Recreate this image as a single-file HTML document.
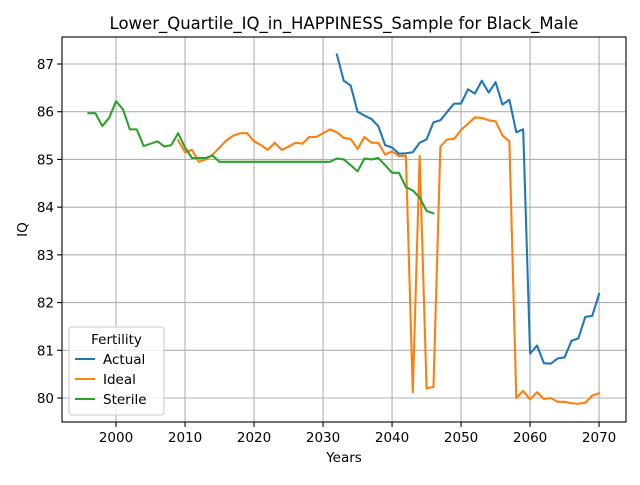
<!DOCTYPE html>
<html><head><meta charset="utf-8"><style>
body{margin:0;background:#fff;font-family:"Liberation Sans","DejaVu Sans",sans-serif;}
svg text{font-family:"DejaVu Sans","Liberation Sans",sans-serif;}
</style></head><body>
<svg id="chart" width="640" height="480" xmlns="http://www.w3.org/2000/svg"></svg>
<script>
const actualYears=[2032,2033,2034,2035,2036,2037,2038,2039,2040,2041,2042,2043,2044,2045,2046,2047,2048,2049,2050,2051,2052,2053,2054,2055,2056,2057,2058,2059,2060,2061,2062,2063,2064,2065,2066,2067,2068,2069,2070];
const actualValues=[87.2,86.65,86.55,86.0,85.92,85.85,85.7,85.3,85.25,85.12,85.13,85.15,85.35,85.42,85.78,85.82,86.0,86.17,86.17,86.47,86.38,86.65,86.4,86.62,86.15,86.25,85.57,85.63,80.93,81.1,80.73,80.72,80.83,80.85,81.2,81.25,81.7,81.72,82.18];
const idealStart=2009;
const idealValues=[85.4,85.15,85.2,84.95,85.0,85.1,85.25,85.4,85.5,85.55,85.55,85.38,85.3,85.2,85.35,85.2,85.27,85.35,85.33,85.47,85.47,85.55,85.63,85.57,85.45,85.43,85.22,85.47,85.35,85.35,85.1,85.17,85.07,85.08,80.12,85.07,80.2,80.23,85.27,85.42,85.43,85.62,85.75,85.88,85.87,85.82,85.8,85.5,85.38,80.0,80.15,79.97,80.12,79.98,80.0,79.92,79.92,79.89,79.88,79.9,80.05,80.1];
const sterileStart=1996;
const sterileValues=[85.97,85.97,85.7,85.87,86.22,86.05,85.63,85.63,85.28,85.33,85.38,85.27,85.3,85.55,85.25,85.03,85.03,85.03,85.08,84.95,84.95,84.95,84.95,84.95,84.95,84.95,84.95,84.95,84.95,84.95,84.95,84.95,84.95,84.95,84.95,84.95,85.02,85.0,84.88,84.75,85.02,85.0,85.03,84.88,84.72,84.72,84.42,84.35,84.2,83.92,83.87];
const xTicks=[2000,2010,2020,2030,2040,2050,2060,2070];
const yTicks=[80,81,82,83,84,85,86,87];

const L=62,R=626,T=37,B=422;
const xmin=1992.17,xmax=2073.9,ymin=79.497,ymax=87.566;
const xs=v=>L+(v-xmin)/(xmax-xmin)*(R-L);
const ys=v=>B-(v-ymin)/(ymax-ymin)*(B-T);
const svg=document.getElementById('chart');
const NS='http://www.w3.org/2000/svg';
function mk(tag,attrs,parent){const e=document.createElementNS(NS,tag);for(const k in attrs)e.setAttribute(k,attrs[k]);(parent||svg).appendChild(e);return e;}

const grid=mk('g',{});


xTicks.forEach(t=>{
  mk('line',{x1:xs(t),x2:xs(t),y1:T,y2:B,stroke:'#b0b0b0','stroke-width':1.1},grid);
  mk('line',{x1:xs(t),x2:xs(t),y1:B,y2:B+4.9,stroke:'#000','stroke-width':1.1},grid);
  const tx=mk('text',{x:xs(t),y:B+20,'text-anchor':'middle','font-size':13.5},grid);
  tx.textContent=t;
  
  
});
yTicks.forEach(t=>{
  mk('line',{x1:L,x2:R,y1:ys(t),y2:ys(t),stroke:'#b0b0b0','stroke-width':1.1},grid);
  mk('line',{x1:L-4.9,x2:L,y1:ys(t),y2:ys(t),stroke:'#000','stroke-width':1.1},grid);
  const tx=mk('text',{x:L-8,y:ys(t)+5,'text-anchor':'end','font-size':13.5},grid);
  tx.textContent=t;
  
  
});

function series(years,vals,color,name){
  const d=vals.map((v,i)=>(i?'L':'M')+xs(years[i]).toFixed(2)+','+ys(v).toFixed(2)).join(' ');
  const p=mk('path',{d:d,fill:'none',stroke:color,'stroke-width':2.08,'stroke-linejoin':'round','stroke-linecap':'square'});
  
  
}
series(actualYears,actualValues,'#1f77b4','actual-line');
series(idealValues.map((_,i)=>idealStart+i),idealValues,'#ff7f0e','ideal-line');
series(sterileValues.map((_,i)=>sterileStart+i),sterileValues,'#2ca02c','sterile-line');

const frame=mk('rect',{x:L,y:T,width:R-L,height:B-T,fill:'none',stroke:'#000','stroke-width':1.1});



const title=mk('text',{x:(L+R)/2,y:29,'text-anchor':'middle','font-size':16.5});
title.textContent='Lower_Quartile_IQ_in_HAPPINESS_Sample for Black_Male';


const xl=mk('text',{x:(L+R)/2,y:462,'text-anchor':'middle','font-size':13.5});
xl.textContent='Years';


const yl=mk('text',{x:27,y:(T+B)/2,'text-anchor':'middle','font-size':13.5,transform:'rotate(-90 27 '+((T+B)/2)+')'});
yl.textContent='IQ';



const lg=mk('g',{});


mk('rect',{x:69,y:327,width:95,height:88,rx:3,fill:'#fff','fill-opacity':0.8,stroke:'#ccc','stroke-width':1.1},lg);
const lt=mk('text',{x:116.5,y:344,'text-anchor':'middle','font-size':13.5},lg);
lt.textContent='Fertility';


[['Actual','#1f77b4'],['Ideal','#ff7f0e'],['Sterile','#2ca02c']].forEach((e,i)=>{
  const y=359+i*20;
  const g=mk('g',{},lg);
  
  
  mk('line',{x1:75,x2:95,y1:y,y2:y,stroke:e[1],'stroke-width':2.08},g);
  const t=mk('text',{x:103,y:y+5,'font-size':13.5},g);
  t.textContent=e[0];
});
</script>
</body></html>
